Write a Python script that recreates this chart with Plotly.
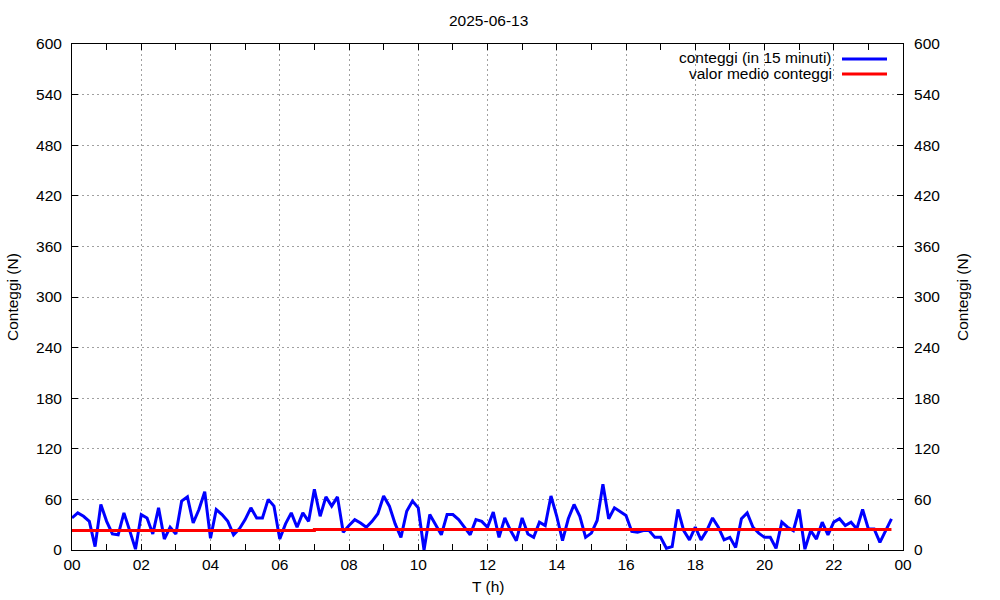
import plotly.graph_objects as go

# ---- data ----
title_text = "2025-06-13"
sample_minutes = 10
counts = [38, 44, 40, 34, 4, 54, 34, 19, 18, 44, 23, 1, 42, 38, 19, 50, 13, 27, 19, 58,
          63, 32, 48, 69, 14, 48, 42, 34, 18, 25, 36, 50, 38, 38, 60, 52, 13, 31, 44, 27,
          44, 34, 72, 40, 63, 52, 63, 21, 29, 36, 32, 27, 34, 43, 64, 52, 31, 15, 46, 58,
          50, 0, 42, 30, 18, 42, 42, 36, 27, 18, 36, 34, 27, 45, 15, 38, 23, 11, 38, 19,
          15, 33, 29, 64, 40, 11, 37, 54, 40, 15, 20, 35, 78, 37, 50, 45, 41, 22, 21, 23,
          23, 15, 15, 2, 4, 48, 23, 12, 27, 12, 23, 38, 27, 12, 15, 3, 37, 44, 27, 20,
          15, 15, 2, 33, 27, 23, 48, 1, 23, 13, 33, 18, 33, 37, 29, 33, 25, 48, 25, 25,
          9, 23, 37]
hours = [i * sample_minutes / 60 for i in range(len(counts))]

mean_hours = [0, 7, 7, 23 + 40 / 60]
mean_values = [23.2, 23.2, 24.3, 24.3]

x_tickvals = list(range(0, 25, 2))
x_ticktext = ["00", "02", "04", "06", "08", "10", "12", "14", "16", "18", "20", "22", "00"]
y_tickvals = list(range(0, 601, 60))

label_counts = "conteggi (in 15 minuti)"
label_mean = "valor medio conteggi"
y_title = "Conteggi (N)"
x_title = "T (h)"

BLUE = "#0000ff"
RED = "#ff0000"
FONT = "Liberation Sans, Arial, sans-serif"
FS = 15.5

# ---- layout geometry (page pixels) ----
W, H = 1000, 600
L, R, T, B = 72, 903, 44, 550
pw, ph = R - L, B - T


def px(x):
    return (x - L) / pw


def py(y):
    return (B - y) / ph


fig = go.Figure()
fig.add_trace(go.Scatter(x=hours, y=counts, mode="lines", name=label_counts,
                         line=dict(color=BLUE, width=3), showlegend=False))
fig.add_trace(go.Scatter(x=mean_hours, y=mean_values, mode="lines", name=label_mean,
                         line=dict(color=RED, width=3), showlegend=False, yaxis="y2"))

grid = dict(showgrid=True, gridcolor="#a0a0a0", griddash="2px,3px", gridwidth=1)
fig.update_layout(
    width=W, height=H,
    margin=dict(l=L, r=W - R, t=T, b=H - B, pad=0),
    paper_bgcolor="white", plot_bgcolor="white",
    font=dict(family=FONT, size=FS, color="black"),
    showlegend=False,
    xaxis=dict(range=[0, 24], tickvals=x_tickvals, ticktext=x_ticktext,
               ticks="inside", ticklen=6, tickcolor="black",
               minor=dict(dtick=1, tick0=0, ticks="inside", ticklen=3, tickcolor="black", showgrid=False),
               showline=True, linecolor="black", linewidth=1, mirror="allticks",
               zeroline=False, ticklabelstandoff=0, **grid),
    yaxis=dict(range=[0, 600], tickvals=y_tickvals, ticks="inside", ticklen=6, tickcolor="black",
               showline=True, linecolor="black", linewidth=1, mirror=True,
               zeroline=False, ticklabelstandoff=6, **grid),
    yaxis2=dict(range=[0, 600], tickvals=y_tickvals, ticks="inside", ticklen=6, tickcolor="black",
                overlaying="y", side="right", showgrid=False, zeroline=False,
                showline=True, linecolor="black", linewidth=1, ticklabelstandoff=7),
)

ann = []
ann.append(dict(text=title_text, xref="paper", yref="paper", x=px(488), y=py(20),
                xanchor="center", yanchor="middle", showarrow=False))
ann.append(dict(text=x_title, xref="paper", yref="paper", x=px(488), y=py(586),
                xanchor="center", yanchor="middle", showarrow=False))
ann.append(dict(text=y_title, xref="paper", yref="paper", x=px(12), y=py(297),
                xanchor="center", yanchor="middle", textangle=-90, showarrow=False))
ann.append(dict(text=y_title, xref="paper", yref="paper", x=px(962), y=py(297),
                xanchor="center", yanchor="middle", textangle=-90, showarrow=False))
ann.append(dict(text=label_counts, xref="paper", yref="paper", x=px(834), y=py(58),
                xanchor="right", yanchor="middle", showarrow=False))
ann.append(dict(text=label_mean, xref="paper", yref="paper", x=px(834), y=py(73),
                xanchor="right", yanchor="middle", showarrow=False))
fig.update_layout(annotations=ann)

fig.add_shape(type="line", xref="paper", yref="paper", x0=px(842), x1=px(887),
              y0=py(59), y1=py(59), line=dict(color=BLUE, width=3))
fig.add_shape(type="line", xref="paper", yref="paper", x0=px(842), x1=px(887),
              y0=py(74), y1=py(74), line=dict(color=RED, width=3))

fig.write_html("out.html", config={"displayModeBar": False},
               post_script="document.body.style.margin='0';")
